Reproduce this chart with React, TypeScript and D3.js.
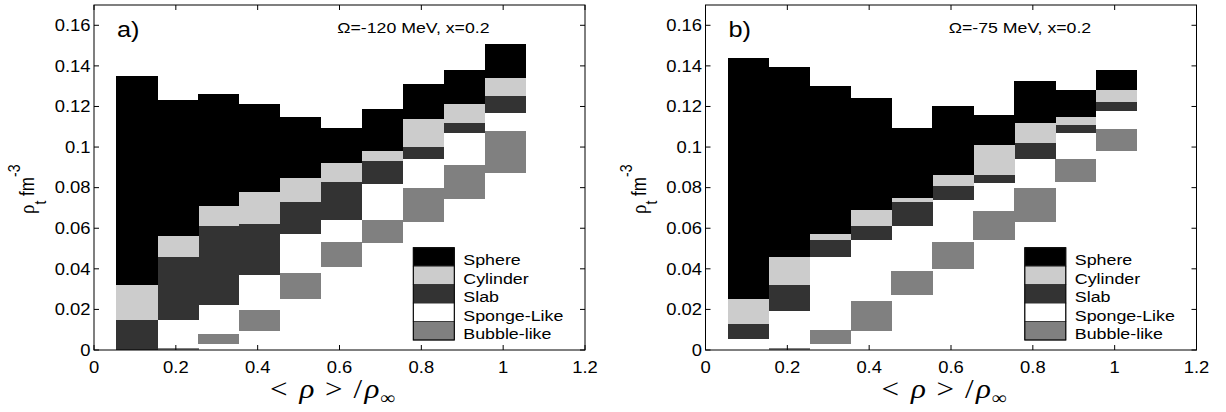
import React from "react";
import * as d3 from "d3";

// ---------- data ----------
const X_CENTERS = [0.1, 0.2, 0.3, 0.4, 0.5, 0.6, 0.7, 0.8, 0.9, 1.0];
const X_TICKS = [0, 0.2, 0.4, 0.6, 0.8, 1, 1.2];
const Y_TICKS = [0, 0.02, 0.04, 0.06, 0.08, 0.1, 0.12, 0.14, 0.16];
const PHASES = ["Sphere", "Cylinder", "Slab", "Sponge-Like", "Bubble-like"];
const PHASE_COLORS = ["#000000", "#cccccc", "#333333", "#ffffff", "#808080"];

// Panel a) Omega = -120 MeV : [low, high] of rho_t per bar
const SPHERE_A = [[0.032, 0.135], [0.056, 0.123], [0.071, 0.126], [0.078, 0.121], [0.085, 0.115], [0.092, 0.1095], [0.098, 0.119], [0.114, 0.131], [0.121, 0.138], [0.134, 0.151]];
const CYLINDER_A = [[0.015, 0.032], [0.046, 0.056], [0.061, 0.071], [0.062, 0.078], [0.073, 0.085], [0.083, 0.092], [0.093, 0.098], [0.100, 0.114], [0.112, 0.121], [0.125, 0.134]];
const SLAB_A = [[0, 0.015], [0.015, 0.046], [0.022, 0.061], [0.037, 0.062], [0.057, 0.073], [0.064, 0.083], [0.082, 0.093], [0.094, 0.100], [0.107, 0.112], [0.117, 0.125]];
const SPONGE_A = [[0, 0], [0.0008, 0.015], [0.008, 0.022], [0.0197, 0.037], [0.038, 0.057], [0.053, 0.064], [0.064, 0.082], [0.080, 0.094], [0.091, 0.107], [0.108, 0.117]];
const BUBBLE_A = [[0, 0], [0, 0.0008], [0.003, 0.008], [0.0094, 0.0197], [0.0253, 0.038], [0.041, 0.053], [0.0525, 0.064], [0.063, 0.080], [0.0742, 0.091], [0.087, 0.108]];

// Panel b) Omega = -75 MeV
const SPHERE_B = [[0.025, 0.144], [0.046, 0.1395], [0.057, 0.130], [0.069, 0.124], [0.075, 0.1095], [0.086, 0.120], [0.101, 0.116], [0.112, 0.1324], [0.115, 0.128], [0.128, 0.138]];
const CYLINDER_B = [[0.0128, 0.025], [0.032, 0.046], [0.054, 0.057], [0.061, 0.069], [0.073, 0.075], [0.081, 0.086], [0.086, 0.101], [0.102, 0.112], [0.111, 0.115], [0.122, 0.128]];
const SLAB_B = [[0.0053, 0.0128], [0.019, 0.032], [0.046, 0.054], [0.054, 0.061], [0.061, 0.073], [0.074, 0.081], [0.0824, 0.086], [0.094, 0.102], [0.107, 0.111], [0.118, 0.122]];
const SPONGE_B = [[0, 0], [0.0008, 0.019], [0.0098, 0.046], [0.024, 0.054], [0.039, 0.061], [0.053, 0.074], [0.0686, 0.0824], [0.0796, 0.094], [0.0939, 0.107], [0.1088, 0.118]];
const BUBBLE_B = [[0, 0], [0, 0.0008], [0.003, 0.0098], [0.0094, 0.024], [0.027, 0.039], [0.040, 0.053], [0.054, 0.0686], [0.063, 0.0796], [0.083, 0.0939], [0.098, 0.1088]];

const TITLE_A = "Ω=-120 MeV, x=0.2";
const TITLE_B = "Ω=-75 MeV, x=0.2";

// ---------- layout ----------
const W = 1226;
const H = 412;
const TOP = 5;
const BOTTOM = 350;
const PW = 491;
const SANS = "'Liberation Sans', Arial, Helvetica, sans-serif";
const SERIF = "'Liberation Serif', 'DejaVu Serif', serif";
const SX = 1.15;

function SText(props: any) {
  const { x, y, anchor = "start", size = 16, family = SANS, style, children } = props;
  return (
    <text
      transform={`translate(${x},${y}) scale(${SX},1)`}
      textAnchor={anchor}
      fontSize={size}
      fontFamily={family}
      fontStyle={style}
      fill="#000"
    >
      {children}
    </text>
  );
}

function Panel(props: any) {
  const { left, tag, title, series } = props;
  const xs = d3.scaleLinear().domain([0, 1.2]).range([left, left + PW]);
  const ys = d3.scaleLinear().domain([0, 0.17]).range([BOTTOM, TOP]);
  const right = left + PW;
  const fmt = d3.format("~g");
  // draw order: sponge, bubble, slab, cylinder, sphere
  const order = [3, 4, 2, 1, 0];
  const legX = left + 319.3;
  const legTop = 247.7;
  const rowH = 18.46;
  const cx = (left + right) / 2;
  return (
    <g>
      <g shapeRendering="crispEdges">
        {order.map((pi) =>
          (series[pi] as number[][]).map((seg, i) => {
            const [lo, hi] = seg;
            if (hi <= lo) return null;
            const c = X_CENTERS[i];
            const x0 = Math.round(xs(c - 0.0455));
            const x1 = Math.round(xs(c + 0.0555));
            const y0 = Math.round(ys(hi));
            const y1 = Math.max(Math.round(ys(lo)), y0 + 1);
            return (
              <rect
                key={`${pi}-${i}`}
                x={x0}
                y={y0}
                width={x1 - x0}
                height={y1 - y0}
                fill={PHASE_COLORS[pi]}
              />
            );
          })
        )}
      </g>
      {/* box */}
      <rect x={left} y={TOP} width={PW} height={BOTTOM - TOP} fill="none" stroke="#000" strokeWidth={1} />
      {X_TICKS.map((t) => (
        <g key={`xt${t}`}>
          <line x1={xs(t)} x2={xs(t)} y1={BOTTOM} y2={BOTTOM - 5} stroke="#000" />
          <line x1={xs(t)} x2={xs(t)} y1={TOP} y2={TOP + 5} stroke="#000" />
          <SText x={xs(t)} y={373} anchor="middle" size={16}>{fmt(t)}</SText>
        </g>
      ))}
      {Y_TICKS.map((t) => (
        <g key={`yt${t}`}>
          <line x1={left} x2={left + 5} y1={ys(t)} y2={ys(t)} stroke="#000" />
          <line x1={right} x2={right - 5} y1={ys(t)} y2={ys(t)} stroke="#000" />
          <SText x={left - 3.5} y={ys(t) + 5.8} anchor="end" size={16}>{fmt(t)}</SText>
        </g>
      ))}
      {/* tag and title */}
      <SText x={left + 23} y={37} size={22}>{tag}</SText>
      <SText x={left + 243.3} y={32.7} size={15.4}>{title}</SText>
      {/* legend */}
      {PHASES.map((name, i) => (
        <g key={name}>
          <rect x={legX} y={legTop + i * rowH} width={41} height={rowH} fill={PHASE_COLORS[i]} stroke="#333" strokeWidth={0.8} />
          <SText x={legX + 50} y={legTop + i * rowH + 17.5} size={15.5}>{name}</SText>
        </g>
      ))}
      <rect x={legX} y={legTop} width={41} height={rowH * 5} fill="none" stroke="#000" strokeWidth={1} />
      {/* y label */}
      <text
        transform={`translate(${left - 60},214) scale(${SX},1) rotate(-90)`}
        fontFamily={SANS}
        fontSize={17}
        fill="#000"
      >
        <tspan fontFamily={SERIF} fontSize={19}>ρ</tspan>
        <tspan dy={10} fontSize={14}>t</tspan>
        <tspan dy={-10}>{"  fm"}</tspan>
        <tspan dy={-12} fontSize={14}>-3</tspan>
      </text>
      {/* x label */}
      <g>
        <SText x={cx - 69.5} y={398} family={SERIF} size={27}>{"<"}</SText>
        <SText x={cx - 40} y={398} family={SERIF} size={27} style="italic">{"ρ"}</SText>
        <SText x={cx - 14.5} y={398} family={SERIF} size={27}>{">"}</SText>
        <SText x={cx + 14} y={398} family={SERIF} size={27}>{"/"}</SText>
        <SText x={cx + 25} y={398} family={SERIF} size={27} style="italic">{"ρ"}</SText>
        <SText x={cx + 40.5} y={404} family={SERIF} size={18}>{"∞"}</SText>
      </g>
    </g>
  );
}

export default function App() {
  const seriesA = [SPHERE_A, CYLINDER_A, SLAB_A, SPONGE_A, BUBBLE_A];
  const seriesB = [SPHERE_B, CYLINDER_B, SLAB_B, SPONGE_B, BUBBLE_B];
  return (
    <svg
      width={W}
      height={H}
      viewBox={`0 0 ${W} ${H}`}
      style={{ position: "absolute", left: 0, top: 0, background: "#fff" }}
    >
      <rect x={0} y={0} width={W} height={H} fill="#fff" />
      <Panel left={94} tag="a)" title={TITLE_A} series={seriesA} />
      <Panel left={705.5} tag="b)" title={TITLE_B} series={seriesB} />
    </svg>
  );
}
